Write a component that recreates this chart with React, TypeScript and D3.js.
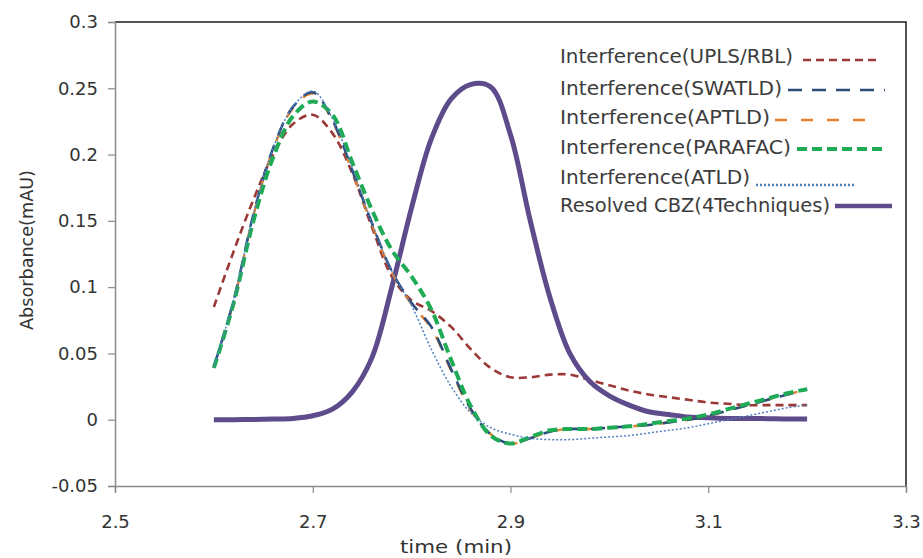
import React, { useEffect, useRef } from 'react';
import * as d3 from 'd3';

// retention time (min), shared by every series
const times = [
  2.6, 2.62, 2.64, 2.66, 2.68, 2.7, 2.72, 2.74, 2.76, 2.78, 2.8,
  2.82, 2.84, 2.86, 2.88, 2.9, 2.92, 2.94, 2.96, 2.98, 3.0,
  3.02, 3.04, 3.06, 3.08, 3.1, 3.12, 3.14, 3.16, 3.18, 3.2,
];

const uplsRbl = [
  0.085, 0.127, 0.166, 0.2, 0.223, 0.23, 0.216, 0.186, 0.145, 0.108, 0.09,
  0.082, 0.07, 0.053, 0.039, 0.032, 0.032, 0.034, 0.034, 0.03, 0.026,
  0.022, 0.019, 0.017, 0.015, 0.013, 0.012, 0.011, 0.011, 0.011, 0.011,
];
const swatld = [
  0.04, 0.09, 0.155, 0.205, 0.236, 0.247, 0.226, 0.188, 0.148, 0.112, 0.088,
  0.07, 0.038, 0.008, -0.011, -0.018, -0.014, -0.009, -0.007, -0.007, -0.006,
  -0.005, -0.004, -0.002, 0.0, 0.003, 0.007, 0.011, 0.015, 0.019, 0.023,
];
const aptld = [
  0.04, 0.089, 0.154, 0.204, 0.235, 0.246, 0.225, 0.187, 0.147, 0.111, 0.087,
  0.069, 0.037, 0.007, -0.011, -0.018, -0.014, -0.009, -0.007, -0.007, -0.006,
  -0.005, -0.004, -0.002, 0.0, 0.003, 0.007, 0.011, 0.015, 0.019, 0.023,
];
const parafac = [
  0.039, 0.088, 0.15, 0.198, 0.229, 0.24, 0.23, 0.194, 0.158, 0.128, 0.108,
  0.083, 0.045, 0.01, -0.012, -0.018, -0.013, -0.008, -0.007, -0.007, -0.006,
  -0.005, -0.003, -0.001, 0.001, 0.004, 0.008, 0.012, 0.016, 0.02, 0.023,
];
const atld = [
  0.04, 0.09, 0.155, 0.205, 0.236, 0.248, 0.227, 0.19, 0.148, 0.112, 0.086,
  0.053, 0.025, 0.005, -0.006, -0.011, -0.014, -0.015, -0.015, -0.014, -0.013,
  -0.012, -0.01, -0.008, -0.006, -0.003, 0.0, 0.003, 0.006, 0.009, 0.011,
];
const resolvedCbz = [
  0, 0, 0.0002, 0.0005, 0.001, 0.003, 0.008, 0.021, 0.047, 0.1, 0.16,
  0.212, 0.242, 0.253, 0.251, 0.215, 0.15, 0.092, 0.05, 0.029, 0.018,
  0.011, 0.006, 0.004, 0.002, 0.0015, 0.001, 0.001, 0.0008, 0.0005, 0.0005,
];

const xTicks = [2.5, 2.7, 2.9, 3.1, 3.3];
const yTicks = [-0.05, 0, 0.05, 0.1, 0.15, 0.2, 0.25, 0.3];

const legendNames = [
  'Interference(UPLS/RBL)',
  'Interference(SWATLD)',
  'Interference(APTLD)',
  'Interference(PARAFAC)',
  'Interference(ATLD)',
  'Resolved CBZ(4Techniques)',
];

const App = () => {
  const svgRef = useRef<SVGSVGElement>(null);

  useEffect(() => {
    const width = 923;
    const height = 558;
    const left = 115, right = 906, top = 22, bottom = 486;

    const svg = d3.select(svgRef.current)
      .attr('width', width)
      .attr('height', height);
    svg.selectAll('*').remove();

    const x = d3.scaleLinear().domain([2.5, 3.3]).range([left, right]);
    const y = d3.scaleLinear().domain([-0.05, 0.3]).range([bottom, top]);

    const font = "'DejaVu Sans', sans-serif";

    // plot border (top + right are dark)
    svg.append('path')
      .attr('d', `M${left},${top}H${right}V${bottom}`)
      .attr('fill', 'none')
      .attr('stroke', '#1a1a1a')
      .attr('stroke-width', 1.5);

    // axes
    const yAxis = svg.append('g')
      .attr('transform', `translate(${left},0)`)
      .call(d3.axisLeft(y).tickValues(yTicks).tickSize(7).tickPadding(10)
        .tickFormat(d => String(d)));
    const xAxis = svg.append('g')
      .attr('transform', `translate(0,${bottom})`)
      .call(d3.axisBottom(x).tickValues(xTicks).tickSize(7).tickPadding(22)
        .tickFormat(d => String(d)));
    [yAxis, xAxis].forEach(g => {
      g.select('.domain').attr('stroke', '#8a8a8a').attr('stroke-width', 1.5);
      g.selectAll('.tick line').attr('stroke', '#8a8a8a').attr('stroke-width', 1.2);
      g.selectAll('.tick text')
        .attr('fill', '#333')
        .style('font-family', font)
        .style('font-size', '18px');
    });

    svg.append('text')
      .attr('transform', 'rotate(-90)')
      .attr('x', -250)
      .attr('y', 33)
      .attr('text-anchor', 'middle')
      .attr('fill', '#333')
      .attr('textLength', 160)
      .attr('lengthAdjust', 'spacingAndGlyphs')
      .style('font-family', font)
      .style('font-size', '17.5px')
      .text('Absorbance(mAU)');

    svg.append('text')
      .attr('x', 456)
      .attr('y', 553)
      .attr('text-anchor', 'middle')
      .attr('fill', '#333')
      .attr('textLength', 112)
      .attr('lengthAdjust', 'spacingAndGlyphs')
      .style('font-family', font)
      .style('font-size', '18px')
      .text('time (min)');

    const series = [
      { name: legendNames[0], values: uplsRbl, color: '#9b3838', w: 2.6, dash: '8,5' },
      { name: legendNames[5], values: resolvedCbz, color: '#5d4b8b', w: 5, dash: null },
      { name: legendNames[2], values: aptld, color: '#e5812e', w: 2.4, dash: '12,14' },
      { name: legendNames[1], values: swatld, color: '#2c4d7a', w: 2.6, dash: '14,10' },
      { name: legendNames[3], values: parafac, color: '#1fab55', w: 4, dash: '10,5' },
      { name: legendNames[4], values: atld, color: '#4f81bd', w: 1.5, dash: '2,2' },
    ];

    const line = d3.line<number>()
      .x((_, i) => x(times[i]))
      .y(d => y(d))
      .curve(d3.curveCatmullRom.alpha(0.5));

    series.forEach(s => {
      svg.append('path')
        .datum(s.values)
        .attr('fill', 'none')
        .attr('stroke', s.color)
        .attr('stroke-width', s.w)
        .attr('stroke-dasharray', s.dash)
        .attr('stroke-linecap', 'butt')
        .attr('d', line);
    });

    // legend
    const legend = [
      { i: 0, base: 63, textEnd: 793, x1: 803, x2: 878, ly: 60 },
      { i: 3, base: 95, textEnd: 782, x1: 788, x2: 885, ly: 90 },
      { i: 2, base: 124, textEnd: 770, x1: 775, x2: 875, ly: 120 },
      { i: 4, base: 154, textEnd: 791, x1: 797, x2: 887, ly: 149 },
      { i: 5, base: 184, textEnd: 750, x1: 756, x2: 855, ly: 185 },
      { i: 1, base: 212, textEnd: 830, x1: 835, x2: 892, ly: 206 },
    ];
    legend.forEach(l => {
      const s = series[l.i];
      svg.append('text')
        .attr('x', 560)
        .attr('y', l.base)
        .attr('fill', '#3c3c3c')
        .attr('textLength', l.textEnd - 560)
        .attr('lengthAdjust', 'spacingAndGlyphs')
        .style('font-family', font)
        .style('font-size', '19px')
        .text(s.name);
      svg.append('line')
        .attr('x1', l.x1)
        .attr('x2', l.x2)
        .attr('y1', l.ly)
        .attr('y2', l.ly)
        .attr('stroke', s.color)
        .attr('stroke-width', s.dash ? Math.max(s.w, 2.5) : 4.5)
        .attr('stroke-dasharray', s.dash);
    });
  }, []);

  return (
    <svg ref={svgRef} style={{ position: 'absolute', left: 0, top: 0 }}></svg>
  );
};

export default App;
